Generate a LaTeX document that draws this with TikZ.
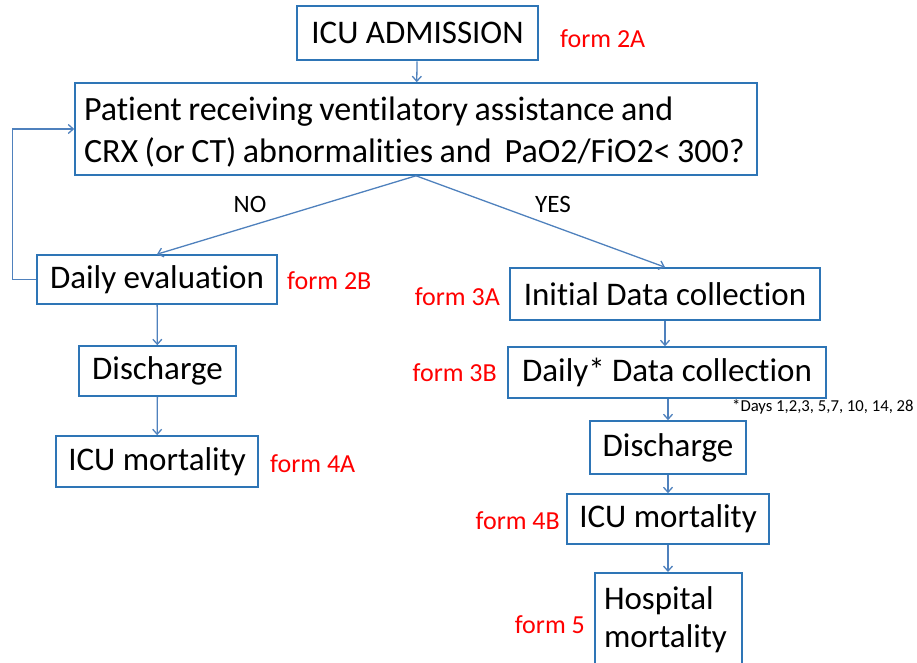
\documentclass[tikz,border=0pt]{standalone}
\usepackage{fontspec}
\setmainfont[Ligatures=NoCommon]{Carlito}
\usepackage{xcolor}
\usetikzlibrary{arrows.meta, positioning}
\definecolor{boxblue}{RGB}{46,117,182}
\definecolor{arrblue}{RGB}{79,129,189}
\definecolor{formred}{RGB}{255,0,0}

\begin{document}
\begin{tikzpicture}[x=1pt, y=-1pt,
    box/.style={draw=boxblue, line width=1.6pt, rectangle, inner sep=0pt,
      font=\fontsize{33}{42}\selectfont},
    arr/.style={draw=arrblue, line width=1.3pt,
      -{Straight Barb[length=5pt,width=9pt]}},
    formlbl/.style={text=formred, inner sep=0pt, font=\fontsize{26}{28}\selectfont},
    branch/.style={inner sep=0pt, font=\fontsize{25}{28}\selectfont}]
    \clip (0,0) rectangle (917,663);
    \useasboundingbox (0,0) rectangle (917,663);
    % Top of the flow
    \node[box, line width=2.8pt, minimum width=241pt, minimum height=54pt]
      (adm) at (417.5,33) {ICU ADMISSION};
    \node[box, minimum width=682pt, minimum height=92pt, text width=664pt, align=left,
      font=\fontsize{34}{42}\selectfont]
      (q) at (416,129) {\spaceskip=6.5pt\relax\rule{0pt}{30pt}Patient receiving ventilatory assistance and\\
      CRX (or CT) abnormalities and\hspace{13pt}PaO2/FiO2< 300?};
    % NO branch
    \node[box, minimum width=240pt, minimum height=49pt] (deval) at (157,279.5) {Daily evaluation};
    \node[box, minimum width=157pt, minimum height=50pt] (dischl) at (157.5,371) {Discharge};
    \node[box, minimum width=202pt, minimum height=51pt] (icul) at (157,461.5) {ICU mortality};
    % YES branch
    \node[box, minimum width=310pt, minimum height=52pt] (init) at (665,294) {Initial Data collection};
    \node[box, minimum width=318pt, minimum height=51pt] (ddata) at (667,372.5) {Daily* Data collection};
    \node[box, minimum width=156pt, minimum height=53pt] (dischr) at (668,447.5) {Discharge};
    \node[box, minimum width=202pt, minimum height=50pt] (icur) at (668,519) {ICU mortality};
    \node[box, minimum width=147pt, minimum height=94pt, text width=129pt, align=left,
      font=\fontsize{33}{38}\selectfont, anchor=north] (hosp) at (668.5,572) {Hospital\\mortality};
    % Form labels
    \node[formlbl, anchor=west] (f2a) at (560,39) {form 2A};
    \node[formlbl, anchor=west] (f2b) at (287,281) {form 2B};
    \node[formlbl, anchor=west] (f4a) at (270,464) {form 4A};
    \node[formlbl, anchor=east] (f3a) at (500,297) {form 3A};
    \node[formlbl, anchor=east] (f3b) at (497,373) {form 3B};
    \node[formlbl, anchor=east] (f4b) at (560,521) {form 4B};
    \node[formlbl, anchor=east] (f5) at (585,625) {form 5};
    \node[branch] (no) at (250,204) {NO};
    \node[branch] (yes) at (553,204) {YES};
    \node[inner sep=0pt, anchor=west, font=\fontsize{16.7}{18}\selectfont]
      (days) at (732,407) {*Days 1,2,3, 5,7, 10, 14, 28};
    % Connectors
    \draw[arr] (adm) -- (q);
    \draw[arr] (q.south) -- (deval.north);
    \draw[arr] (q.south) -- (init.north);
    \draw[arr] (deval.west) -- ++(-24,0) |- (q.west);
    \draw[arr] (deval) -- (dischl);
    \draw[arr] (dischl) -- (icul);
    \draw[arr] (init.south) -- (init.south |- ddata.north);
    \draw[arr] (ddata.south -| dischr.north) -- (dischr.north);
    \draw[arr] (dischr) -- (icur);
    \draw[arr] (icur) -- (icur |- hosp.north);
\end{tikzpicture}
\end{document}
